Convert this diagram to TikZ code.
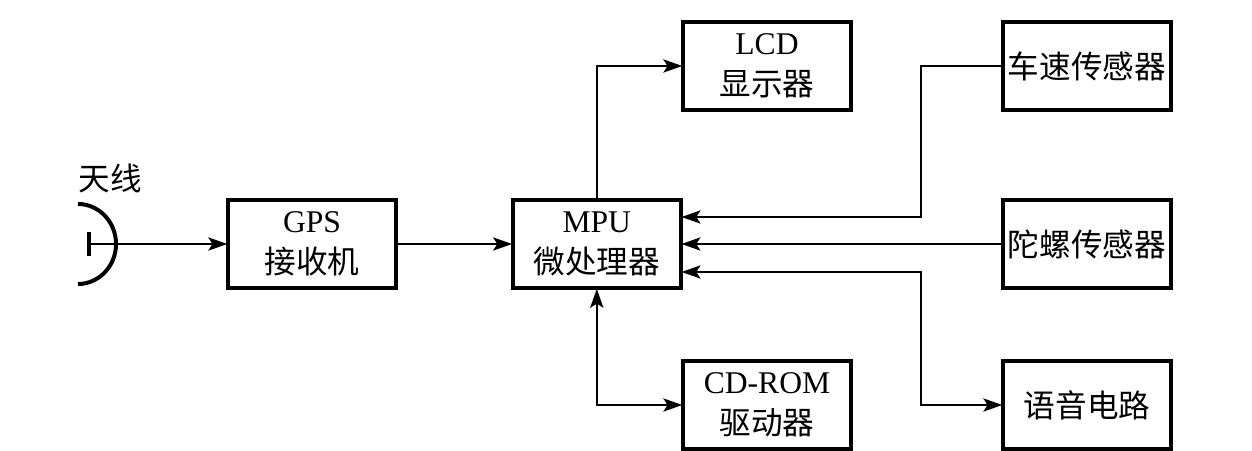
\documentclass[tikz,border=0pt]{standalone}
\usepackage{fontspec}
\setmainfont{Liberation Serif}
\newfontfamily\cjk{Noto Sans CJK SC}
\usetikzlibrary{positioning, arrows.meta}
\tikzset{
  every node/.style={font=\fontsize{23.8}{31}\selectfont, align=center},
  blockbox/.style={draw=black, line width=3pt, outer sep=0.5pt, minimum width=4.45cm, minimum height=2.34cm},
  every path/.style={draw=black, line width=1.5pt},
  >={Stealth[length=0.5cm, width=0.35cm, inset=0.11cm]}
}

\begin{document}
\begin{tikzpicture}[x=0.02646cm, y=-0.02646cm, node distance=3.05cm]
  \useasboundingbox[draw=none] (0,0) rectangle (1252,451);
  % Nodes
  \node (gps) [blockbox] at (312,244) {GPS\\{\cjk 接收机}};
  \node (mpu) [blockbox, right=of gps] {MPU\\{\cjk 微处理器}};
  \node (lcd) [blockbox] at (767,66) {LCD\\{\cjk 显示器}};
  \node (cdrom) [blockbox] at (767,405) {CD-ROM\\{\cjk 驱动器}};
  \node (speed) [blockbox] at (1087,66) {\cjk 车速传感器};
  \node (gyro) [blockbox] at (1087,244) {\cjk 陀螺传感器};
  \node (voice) [blockbox] at (1087,405) {\cjk 语音电路};
  \node (antlabel) [draw=none] at (110,178) {\cjk 天线};

  % Antenna
  \coordinate (ant) at (89,244);
  \coordinate (bus) at (921,244);
  \draw[line width=3pt] (78,204) arc[start angle=-90, end angle=90, x radius=38, y radius=40];
  \draw[line width=3pt] (89,232) -- (89,256);

  \draw[->] (ant) -- (gps);
  \draw[->] (gps) -- (mpu);
  \draw[->] (mpu.north) |- (lcd);
  \draw[<->] (mpu.south) |- (cdrom);
  \draw[->] (speed) -| (bus |- 0,217) -- (mpu.east |- 0,217);
  \draw[->] (gyro) -- (mpu);
  \draw[<->] (mpu.east |- 0,272) -| (bus |- voice) -- (voice);
\end{tikzpicture}
\end{document}
